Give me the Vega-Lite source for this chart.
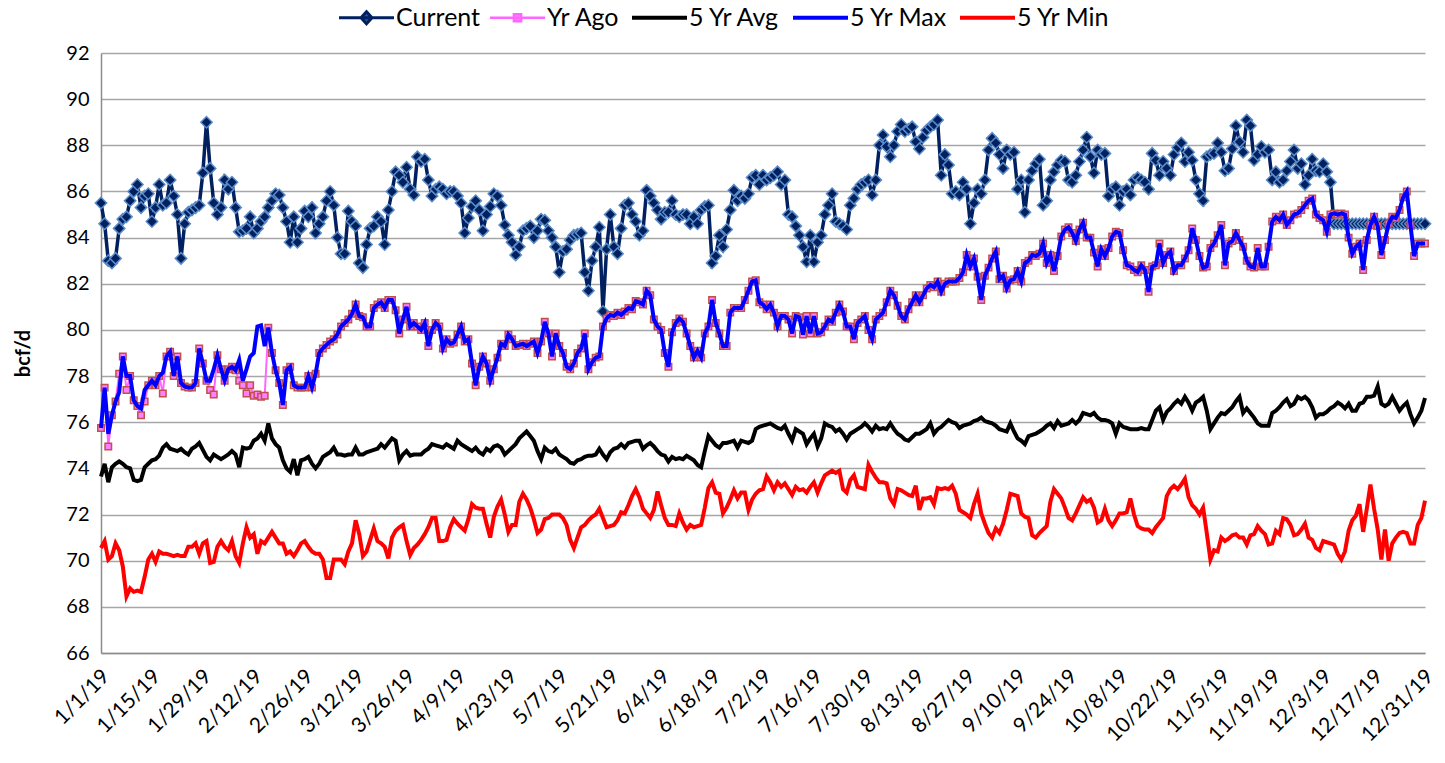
{
"$schema":"https://vega.github.io/schema/vega-lite/v6.json",
"width":1324,"height":600,
"autosize":{"type":"none"},
"padding":{"left":101,"top":53,"right":20,"bottom":110},
"background":"white",
"config":{"font":"Lato","view":{"stroke":null},"axis":{"labelFont":"Lato","titleFont":"Lato"},"legend":{"labelFont":"Lato"}},
"data":{"values":[
{"d":"2019-01-01","C":85.5,"Y":75.75,"A":73.65,"X":75.75,"N":70.55},
{"d":"2019-01-02","C":84.6,"Y":77.5,"A":74.2,"X":77.5,"N":70.85},
{"d":"2019-01-03","C":83.0,"Y":74.95,"A":73.4,"X":75.5,"N":70.05},
{"d":"2019-01-04","C":82.9,"Y":76.3,"A":74.05,"X":76.3,"N":70.2},
{"d":"2019-01-05","C":83.1,"Y":76.9,"A":74.2,"X":76.9,"N":70.75},
{"d":"2019-01-06","C":84.4,"Y":78.1,"A":74.3,"X":77.3,"N":70.45},
{"d":"2019-01-07","C":84.8,"Y":78.85,"A":74.2,"X":78.85,"N":69.75},
{"d":"2019-01-08","C":84.9,"Y":77.4,"A":74.05,"X":78.0,"N":68.45},
{"d":"2019-01-09","C":85.6,"Y":78.0,"A":74.0,"X":78.0,"N":68.8},
{"d":"2019-01-10","C":86.0,"Y":76.95,"A":73.5,"X":76.95,"N":68.65},
{"d":"2019-01-11","C":86.3,"Y":76.7,"A":73.45,"X":76.7,"N":68.7},
{"d":"2019-01-12","C":85.3,"Y":76.3,"A":73.5,"X":76.6,"N":68.65},
{"d":"2019-01-13","C":85.8,"Y":76.9,"A":74.05,"X":77.4,"N":69.3},
{"d":"2019-01-14","C":85.9,"Y":77.6,"A":74.2,"X":77.6,"N":70.05},
{"d":"2019-01-15","C":84.7,"Y":77.8,"A":74.35,"X":77.8,"N":70.3},
{"d":"2019-01-16","C":85.3,"Y":77.6,"A":74.4,"X":77.6,"N":69.95},
{"d":"2019-01-17","C":86.3,"Y":78.0,"A":74.55,"X":78.0,"N":70.4},
{"d":"2019-01-18","C":85.4,"Y":77.25,"A":74.9,"X":78.15,"N":70.3},
{"d":"2019-01-19","C":85.5,"Y":78.85,"A":75.05,"X":78.85,"N":70.3},
{"d":"2019-01-20","C":86.5,"Y":79.05,"A":74.85,"X":79.05,"N":70.25},
{"d":"2019-01-21","C":85.8,"Y":78.0,"A":74.8,"X":78.0,"N":70.2},
{"d":"2019-01-22","C":85.0,"Y":78.85,"A":74.75,"X":78.85,"N":70.25},
{"d":"2019-01-23","C":83.1,"Y":77.7,"A":74.85,"X":77.7,"N":70.2},
{"d":"2019-01-24","C":84.6,"Y":77.55,"A":74.7,"X":77.55,"N":70.2},
{"d":"2019-01-25","C":85.1,"Y":77.5,"A":74.6,"X":77.5,"N":70.6},
{"d":"2019-01-26","C":85.2,"Y":77.5,"A":74.85,"X":77.5,"N":70.6},
{"d":"2019-01-27","C":85.3,"Y":77.7,"A":74.95,"X":77.7,"N":70.75},
{"d":"2019-01-28","C":85.4,"Y":79.2,"A":75.1,"X":79.2,"N":70.3},
{"d":"2019-01-29","C":86.8,"Y":78.55,"A":74.8,"X":78.55,"N":70.75},
{"d":"2019-01-30","C":89.0,"Y":77.8,"A":74.5,"X":77.8,"N":70.85},
{"d":"2019-01-31","C":87.0,"Y":77.4,"A":74.35,"X":77.8,"N":69.9},
{"d":"2019-02-01","C":85.5,"Y":77.2,"A":74.6,"X":78.3,"N":69.95},
{"d":"2019-02-02","C":85.0,"Y":78.9,"A":74.5,"X":78.9,"N":70.6},
{"d":"2019-02-03","C":85.3,"Y":78.3,"A":74.4,"X":78.3,"N":70.85},
{"d":"2019-02-04","C":86.5,"Y":77.8,"A":74.5,"X":77.8,"N":70.6},
{"d":"2019-02-05","C":86.1,"Y":78.3,"A":74.6,"X":78.3,"N":70.45},
{"d":"2019-02-06","C":86.4,"Y":78.4,"A":74.75,"X":78.4,"N":70.85},
{"d":"2019-02-07","C":85.3,"Y":78.25,"A":74.6,"X":78.25,"N":70.2},
{"d":"2019-02-08","C":84.25,"Y":77.8,"A":74.05,"X":78.7,"N":69.9},
{"d":"2019-02-09","C":84.3,"Y":77.6,"A":74.9,"X":77.8,"N":70.75},
{"d":"2019-02-10","C":84.4,"Y":77.25,"A":74.85,"X":78.3,"N":71.45},
{"d":"2019-02-11","C":84.9,"Y":77.6,"A":74.9,"X":78.85,"N":71.0},
{"d":"2019-02-12","C":84.2,"Y":77.15,"A":75.2,"X":79.0,"N":71.15},
{"d":"2019-02-13","C":84.4,"Y":77.2,"A":75.3,"X":80.15,"N":70.3},
{"d":"2019-02-14","C":84.7,"Y":77.1,"A":75.5,"X":80.2,"N":70.85},
{"d":"2019-02-15","C":84.9,"Y":77.15,"A":75.2,"X":79.3,"N":70.75},
{"d":"2019-02-16","C":85.3,"Y":80.1,"A":75.95,"X":80.1,"N":71.0},
{"d":"2019-02-17","C":85.6,"Y":79.0,"A":75.3,"X":79.0,"N":71.25},
{"d":"2019-02-18","C":85.9,"Y":78.25,"A":75.05,"X":78.25,"N":71.0},
{"d":"2019-02-19","C":85.85,"Y":77.7,"A":74.9,"X":77.7,"N":70.75},
{"d":"2019-02-20","C":85.3,"Y":76.75,"A":74.35,"X":76.75,"N":70.75},
{"d":"2019-02-21","C":84.7,"Y":78.25,"A":74.0,"X":78.25,"N":70.3},
{"d":"2019-02-22","C":83.8,"Y":78.4,"A":73.85,"X":78.4,"N":70.4},
{"d":"2019-02-23","C":84.9,"Y":77.6,"A":74.4,"X":77.6,"N":70.2},
{"d":"2019-02-24","C":83.8,"Y":77.5,"A":73.7,"X":77.5,"N":70.45},
{"d":"2019-02-25","C":84.4,"Y":77.5,"A":74.35,"X":77.5,"N":70.75},
{"d":"2019-02-26","C":85.15,"Y":77.5,"A":74.4,"X":77.5,"N":70.85},
{"d":"2019-02-27","C":84.9,"Y":78.0,"A":74.5,"X":78.0,"N":70.6},
{"d":"2019-02-28","C":85.3,"Y":77.5,"A":74.2,"X":77.5,"N":70.4},
{"d":"2019-03-01","C":84.2,"Y":78.1,"A":74.0,"X":78.1,"N":70.3},
{"d":"2019-03-02","C":84.6,"Y":79.0,"A":74.2,"X":79.0,"N":70.3},
{"d":"2019-03-03","C":84.9,"Y":79.2,"A":74.5,"X":79.2,"N":70.05},
{"d":"2019-03-04","C":85.6,"Y":79.35,"A":74.6,"X":79.35,"N":69.25},
{"d":"2019-03-05","C":86.0,"Y":79.5,"A":74.7,"X":79.5,"N":69.25},
{"d":"2019-03-06","C":85.4,"Y":79.6,"A":74.9,"X":79.6,"N":70.05},
{"d":"2019-03-07","C":84.0,"Y":79.8,"A":74.6,"X":79.8,"N":70.05},
{"d":"2019-03-08","C":83.3,"Y":80.15,"A":74.6,"X":80.15,"N":70.05},
{"d":"2019-03-09","C":83.3,"Y":80.3,"A":74.55,"X":80.3,"N":69.85},
{"d":"2019-03-10","C":85.15,"Y":80.45,"A":74.6,"X":80.45,"N":70.4},
{"d":"2019-03-11","C":84.7,"Y":80.7,"A":74.6,"X":80.7,"N":70.75},
{"d":"2019-03-12","C":84.5,"Y":81.1,"A":74.9,"X":81.1,"N":71.75},
{"d":"2019-03-13","C":82.9,"Y":80.6,"A":74.6,"X":80.6,"N":71.15},
{"d":"2019-03-14","C":82.7,"Y":80.55,"A":74.6,"X":80.55,"N":70.2},
{"d":"2019-03-15","C":83.7,"Y":80.15,"A":74.7,"X":80.15,"N":70.4},
{"d":"2019-03-16","C":84.4,"Y":80.15,"A":74.75,"X":80.15,"N":70.9},
{"d":"2019-03-17","C":84.5,"Y":80.95,"A":74.8,"X":80.95,"N":71.4},
{"d":"2019-03-18","C":84.9,"Y":81.1,"A":74.85,"X":81.1,"N":70.85},
{"d":"2019-03-19","C":84.7,"Y":81.2,"A":75.05,"X":81.2,"N":70.75},
{"d":"2019-03-20","C":83.7,"Y":80.95,"A":74.9,"X":80.95,"N":70.6},
{"d":"2019-03-21","C":85.2,"Y":81.3,"A":75.1,"X":81.3,"N":70.1},
{"d":"2019-03-22","C":86.0,"Y":81.3,"A":75.3,"X":81.3,"N":71.0},
{"d":"2019-03-23","C":86.85,"Y":80.85,"A":75.2,"X":80.85,"N":71.3},
{"d":"2019-03-24","C":86.7,"Y":79.85,"A":74.35,"X":79.85,"N":71.45},
{"d":"2019-03-25","C":86.4,"Y":80.45,"A":74.6,"X":80.45,"N":71.55},
{"d":"2019-03-26","C":87.05,"Y":81.0,"A":74.75,"X":81.0,"N":70.85},
{"d":"2019-03-27","C":86.1,"Y":80.15,"A":74.55,"X":80.15,"N":70.25},
{"d":"2019-03-28","C":85.85,"Y":80.3,"A":74.6,"X":80.3,"N":70.55},
{"d":"2019-03-29","C":87.5,"Y":80.15,"A":74.6,"X":80.15,"N":70.7},
{"d":"2019-03-30","C":87.3,"Y":80.0,"A":74.6,"X":80.0,"N":70.9},
{"d":"2019-03-31","C":87.4,"Y":80.3,"A":74.75,"X":80.3,"N":71.15},
{"d":"2019-04-01","C":86.5,"Y":79.3,"A":74.85,"X":79.3,"N":71.45},
{"d":"2019-04-02","C":85.8,"Y":80.0,"A":75.05,"X":80.0,"N":71.85},
{"d":"2019-04-03","C":86.1,"Y":80.3,"A":75.0,"X":80.3,"N":71.85},
{"d":"2019-04-04","C":86.2,"Y":80.15,"A":74.95,"X":80.15,"N":70.85},
{"d":"2019-04-05","C":86.1,"Y":79.2,"A":74.9,"X":79.2,"N":70.85},
{"d":"2019-04-06","C":85.9,"Y":79.6,"A":75.05,"X":79.6,"N":70.9},
{"d":"2019-04-07","C":86.0,"Y":79.4,"A":74.95,"X":79.4,"N":71.45},
{"d":"2019-04-08","C":86.0,"Y":79.45,"A":74.85,"X":79.45,"N":71.8},
{"d":"2019-04-09","C":85.8,"Y":79.8,"A":75.2,"X":79.8,"N":71.6},
{"d":"2019-04-10","C":85.5,"Y":80.15,"A":75.05,"X":80.15,"N":71.45},
{"d":"2019-04-11","C":84.2,"Y":79.5,"A":74.95,"X":79.5,"N":71.3},
{"d":"2019-04-12","C":84.85,"Y":79.6,"A":74.85,"X":79.6,"N":71.8},
{"d":"2019-04-13","C":85.35,"Y":78.55,"A":74.75,"X":78.55,"N":72.45},
{"d":"2019-04-14","C":85.6,"Y":77.6,"A":74.9,"X":77.6,"N":72.3},
{"d":"2019-04-15","C":85.2,"Y":78.4,"A":74.7,"X":78.4,"N":72.25},
{"d":"2019-04-16","C":84.3,"Y":78.85,"A":74.6,"X":78.85,"N":72.25},
{"d":"2019-04-17","C":85.0,"Y":78.55,"A":74.85,"X":78.55,"N":71.6},
{"d":"2019-04-18","C":85.35,"Y":77.8,"A":74.75,"X":77.8,"N":71.0},
{"d":"2019-04-19","C":85.9,"Y":78.3,"A":74.95,"X":78.3,"N":71.9},
{"d":"2019-04-20","C":85.8,"Y":78.8,"A":75.0,"X":78.8,"N":72.35},
{"d":"2019-04-21","C":85.4,"Y":79.4,"A":74.9,"X":79.4,"N":72.65},
{"d":"2019-04-22","C":84.55,"Y":79.3,"A":74.6,"X":79.3,"N":72.0},
{"d":"2019-04-23","C":84.1,"Y":79.8,"A":74.75,"X":79.8,"N":71.25},
{"d":"2019-04-24","C":83.8,"Y":79.6,"A":74.9,"X":79.6,"N":71.55},
{"d":"2019-04-25","C":83.25,"Y":79.3,"A":75.05,"X":79.3,"N":71.55},
{"d":"2019-04-26","C":83.6,"Y":79.35,"A":75.3,"X":79.35,"N":72.55},
{"d":"2019-04-27","C":84.3,"Y":79.4,"A":75.45,"X":79.4,"N":72.9},
{"d":"2019-04-28","C":84.4,"Y":79.3,"A":75.6,"X":79.3,"N":72.65},
{"d":"2019-04-29","C":84.5,"Y":79.4,"A":75.4,"X":79.4,"N":72.3},
{"d":"2019-04-30","C":84.0,"Y":79.5,"A":75.2,"X":79.5,"N":71.8},
{"d":"2019-05-01","C":84.3,"Y":79.0,"A":74.75,"X":79.0,"N":71.2},
{"d":"2019-05-02","C":84.8,"Y":79.5,"A":74.4,"X":79.5,"N":71.35},
{"d":"2019-05-03","C":84.75,"Y":80.35,"A":74.9,"X":80.35,"N":71.8},
{"d":"2019-05-04","C":84.3,"Y":79.85,"A":74.75,"X":79.85,"N":71.85},
{"d":"2019-05-05","C":84.0,"Y":78.85,"A":74.7,"X":78.85,"N":72.0},
{"d":"2019-05-06","C":83.6,"Y":79.85,"A":74.85,"X":79.85,"N":72.0},
{"d":"2019-05-07","C":82.5,"Y":79.3,"A":74.6,"X":79.3,"N":72.0},
{"d":"2019-05-08","C":83.4,"Y":79.0,"A":74.5,"X":79.0,"N":71.85},
{"d":"2019-05-09","C":83.5,"Y":78.4,"A":74.4,"X":78.4,"N":71.55},
{"d":"2019-05-10","C":83.9,"Y":78.3,"A":74.25,"X":78.3,"N":70.9},
{"d":"2019-05-11","C":84.1,"Y":78.55,"A":74.2,"X":78.55,"N":70.55},
{"d":"2019-05-12","C":84.15,"Y":79.0,"A":74.35,"X":79.0,"N":71.0},
{"d":"2019-05-13","C":84.2,"Y":79.2,"A":74.4,"X":79.2,"N":71.45},
{"d":"2019-05-14","C":82.5,"Y":79.85,"A":74.5,"X":79.85,"N":71.55},
{"d":"2019-05-15","C":81.7,"Y":78.3,"A":74.55,"X":78.3,"N":71.75},
{"d":"2019-05-16","C":83.0,"Y":78.6,"A":74.55,"X":78.6,"N":71.9},
{"d":"2019-05-17","C":83.6,"Y":78.8,"A":74.6,"X":78.8,"N":72.0},
{"d":"2019-05-18","C":84.45,"Y":78.85,"A":74.85,"X":78.85,"N":72.25},
{"d":"2019-05-19","C":80.8,"Y":80.15,"A":74.6,"X":80.15,"N":71.85},
{"d":"2019-05-20","C":83.5,"Y":80.5,"A":74.4,"X":80.5,"N":71.45},
{"d":"2019-05-21","C":85.0,"Y":80.65,"A":74.7,"X":80.65,"N":71.5},
{"d":"2019-05-22","C":83.6,"Y":80.6,"A":74.85,"X":80.6,"N":71.55},
{"d":"2019-05-23","C":83.3,"Y":80.75,"A":74.9,"X":80.75,"N":71.75},
{"d":"2019-05-24","C":84.4,"Y":80.65,"A":75.05,"X":80.65,"N":72.1},
{"d":"2019-05-25","C":85.4,"Y":80.8,"A":74.9,"X":80.8,"N":72.05},
{"d":"2019-05-26","C":85.5,"Y":80.95,"A":75.1,"X":80.95,"N":72.4},
{"d":"2019-05-27","C":85.0,"Y":80.9,"A":75.15,"X":80.9,"N":72.8},
{"d":"2019-05-28","C":84.7,"Y":81.25,"A":75.2,"X":81.25,"N":73.1},
{"d":"2019-05-29","C":84.1,"Y":81.2,"A":75.2,"X":81.2,"N":72.75},
{"d":"2019-05-30","C":84.3,"Y":81.1,"A":74.85,"X":81.1,"N":72.25},
{"d":"2019-05-31","C":86.05,"Y":81.7,"A":75.0,"X":81.7,"N":72.05},
{"d":"2019-06-01","C":85.8,"Y":81.5,"A":75.1,"X":81.5,"N":71.85},
{"d":"2019-06-02","C":85.5,"Y":80.45,"A":74.95,"X":80.45,"N":72.2},
{"d":"2019-06-03","C":85.2,"Y":80.15,"A":74.75,"X":80.15,"N":73.0},
{"d":"2019-06-04","C":84.8,"Y":80.0,"A":74.6,"X":80.0,"N":72.4},
{"d":"2019-06-05","C":85.1,"Y":79.0,"A":74.55,"X":79.0,"N":71.85},
{"d":"2019-06-06","C":85.1,"Y":78.4,"A":74.3,"X":78.4,"N":71.55},
{"d":"2019-06-07","C":85.6,"Y":79.9,"A":74.5,"X":79.9,"N":71.55},
{"d":"2019-06-08","C":85.0,"Y":80.3,"A":74.4,"X":80.3,"N":71.5},
{"d":"2019-06-09","C":84.9,"Y":80.5,"A":74.45,"X":80.5,"N":72.05},
{"d":"2019-06-10","C":85.0,"Y":80.35,"A":74.4,"X":80.35,"N":71.65},
{"d":"2019-06-11","C":85.0,"Y":79.85,"A":74.55,"X":79.85,"N":71.35},
{"d":"2019-06-12","C":84.6,"Y":79.3,"A":74.45,"X":79.3,"N":71.55},
{"d":"2019-06-13","C":84.9,"Y":78.8,"A":74.35,"X":78.8,"N":71.45},
{"d":"2019-06-14","C":84.6,"Y":79.1,"A":74.15,"X":79.1,"N":71.5},
{"d":"2019-06-15","C":85.2,"Y":78.8,"A":74.05,"X":78.8,"N":71.55},
{"d":"2019-06-16","C":85.35,"Y":79.85,"A":74.75,"X":79.85,"N":72.3},
{"d":"2019-06-17","C":85.4,"Y":80.15,"A":75.4,"X":80.15,"N":73.15},
{"d":"2019-06-18","C":82.9,"Y":81.3,"A":75.2,"X":81.3,"N":73.4},
{"d":"2019-06-19","C":83.2,"Y":80.3,"A":75.0,"X":80.3,"N":72.95},
{"d":"2019-06-20","C":84.1,"Y":79.85,"A":74.9,"X":79.85,"N":72.9},
{"d":"2019-06-21","C":83.6,"Y":79.3,"A":75.1,"X":79.3,"N":72.05},
{"d":"2019-06-22","C":84.35,"Y":79.3,"A":75.1,"X":79.3,"N":72.3},
{"d":"2019-06-23","C":85.2,"Y":80.75,"A":75.15,"X":80.75,"N":72.65},
{"d":"2019-06-24","C":86.05,"Y":80.95,"A":75.2,"X":80.95,"N":73.05},
{"d":"2019-06-25","C":85.6,"Y":80.95,"A":74.9,"X":80.95,"N":72.7},
{"d":"2019-06-26","C":85.8,"Y":80.95,"A":75.2,"X":80.95,"N":72.95},
{"d":"2019-06-27","C":85.7,"Y":81.3,"A":75.15,"X":81.3,"N":72.95},
{"d":"2019-06-28","C":85.9,"Y":81.7,"A":75.1,"X":81.7,"N":72.2},
{"d":"2019-06-29","C":86.6,"Y":82.1,"A":75.2,"X":82.1,"N":72.65},
{"d":"2019-06-30","C":86.7,"Y":82.15,"A":75.7,"X":82.15,"N":72.9},
{"d":"2019-07-01","C":86.3,"Y":81.2,"A":75.8,"X":81.2,"N":73.05},
{"d":"2019-07-02","C":86.7,"Y":81.1,"A":75.85,"X":81.1,"N":73.1},
{"d":"2019-07-03","C":86.5,"Y":80.9,"A":75.9,"X":80.9,"N":73.65},
{"d":"2019-07-04","C":86.6,"Y":81.1,"A":75.95,"X":81.1,"N":73.4},
{"d":"2019-07-05","C":86.7,"Y":80.75,"A":75.85,"X":80.75,"N":73.05},
{"d":"2019-07-06","C":86.85,"Y":80.15,"A":75.75,"X":80.15,"N":73.4},
{"d":"2019-07-07","C":86.3,"Y":80.6,"A":75.7,"X":80.6,"N":73.2},
{"d":"2019-07-08","C":86.5,"Y":80.6,"A":75.85,"X":80.6,"N":73.35},
{"d":"2019-07-09","C":85.0,"Y":80.45,"A":75.5,"X":80.45,"N":73.1},
{"d":"2019-07-10","C":84.9,"Y":79.85,"A":75.2,"X":79.85,"N":72.85},
{"d":"2019-07-11","C":84.5,"Y":80.6,"A":75.7,"X":80.6,"N":73.2},
{"d":"2019-07-12","C":84.1,"Y":80.55,"A":75.6,"X":80.55,"N":73.05},
{"d":"2019-07-13","C":83.6,"Y":79.8,"A":75.5,"X":79.8,"N":73.1},
{"d":"2019-07-14","C":82.95,"Y":80.6,"A":75.05,"X":80.6,"N":72.95},
{"d":"2019-07-15","C":84.1,"Y":79.85,"A":75.3,"X":79.85,"N":73.2},
{"d":"2019-07-16","C":82.95,"Y":80.6,"A":75.5,"X":80.6,"N":73.4},
{"d":"2019-07-17","C":83.8,"Y":79.85,"A":74.95,"X":79.85,"N":72.95},
{"d":"2019-07-18","C":84.1,"Y":79.9,"A":75.3,"X":79.9,"N":73.35},
{"d":"2019-07-19","C":85.0,"Y":80.15,"A":75.95,"X":80.15,"N":73.7},
{"d":"2019-07-20","C":85.4,"Y":80.45,"A":75.85,"X":80.45,"N":73.8},
{"d":"2019-07-21","C":85.9,"Y":80.35,"A":75.8,"X":80.35,"N":73.9},
{"d":"2019-07-22","C":84.7,"Y":80.75,"A":75.6,"X":80.75,"N":73.8},
{"d":"2019-07-23","C":84.6,"Y":81.1,"A":75.7,"X":81.1,"N":73.9},
{"d":"2019-07-24","C":84.5,"Y":80.8,"A":75.5,"X":80.8,"N":73.1},
{"d":"2019-07-25","C":84.35,"Y":80.15,"A":75.25,"X":80.15,"N":72.95},
{"d":"2019-07-26","C":85.4,"Y":80.15,"A":75.5,"X":80.15,"N":73.5},
{"d":"2019-07-27","C":85.7,"Y":79.6,"A":75.6,"X":79.6,"N":73.7},
{"d":"2019-07-28","C":86.1,"Y":80.3,"A":75.7,"X":80.3,"N":73.2},
{"d":"2019-07-29","C":86.3,"Y":80.45,"A":75.8,"X":80.45,"N":73.15},
{"d":"2019-07-30","C":86.4,"Y":80.6,"A":75.95,"X":80.6,"N":73.1},
{"d":"2019-07-31","C":86.5,"Y":80.0,"A":75.8,"X":80.0,"N":74.15},
{"d":"2019-08-01","C":85.85,"Y":79.6,"A":75.6,"X":79.6,"N":73.85},
{"d":"2019-08-02","C":86.5,"Y":80.45,"A":75.85,"X":80.45,"N":73.6},
{"d":"2019-08-03","C":88.0,"Y":80.6,"A":75.7,"X":80.6,"N":73.4},
{"d":"2019-08-04","C":88.45,"Y":80.75,"A":75.75,"X":80.75,"N":73.4},
{"d":"2019-08-05","C":87.95,"Y":81.2,"A":75.7,"X":81.2,"N":73.35},
{"d":"2019-08-06","C":87.5,"Y":81.7,"A":75.95,"X":81.7,"N":72.7},
{"d":"2019-08-07","C":88.0,"Y":81.5,"A":75.7,"X":81.5,"N":72.45},
{"d":"2019-08-08","C":88.6,"Y":81.05,"A":75.5,"X":81.05,"N":73.1},
{"d":"2019-08-09","C":88.9,"Y":80.6,"A":75.4,"X":80.6,"N":73.05},
{"d":"2019-08-10","C":88.6,"Y":80.45,"A":75.25,"X":80.45,"N":72.95},
{"d":"2019-08-11","C":88.7,"Y":80.9,"A":75.2,"X":80.9,"N":72.85},
{"d":"2019-08-12","C":88.8,"Y":81.2,"A":75.35,"X":81.2,"N":72.8},
{"d":"2019-08-13","C":88.15,"Y":81.5,"A":75.5,"X":81.5,"N":73.25},
{"d":"2019-08-14","C":87.85,"Y":81.2,"A":75.5,"X":81.2,"N":72.2},
{"d":"2019-08-15","C":88.35,"Y":81.5,"A":75.6,"X":81.5,"N":72.7},
{"d":"2019-08-16","C":88.65,"Y":81.8,"A":75.7,"X":81.8,"N":72.7},
{"d":"2019-08-17","C":88.8,"Y":81.95,"A":75.95,"X":81.95,"N":72.75},
{"d":"2019-08-18","C":88.9,"Y":81.85,"A":75.5,"X":81.85,"N":72.45},
{"d":"2019-08-19","C":89.1,"Y":82.1,"A":75.7,"X":82.1,"N":73.15},
{"d":"2019-08-20","C":86.7,"Y":81.65,"A":75.8,"X":81.65,"N":73.1},
{"d":"2019-08-21","C":87.6,"Y":82.0,"A":75.95,"X":82.0,"N":73.15},
{"d":"2019-08-22","C":87.15,"Y":82.1,"A":76.1,"X":82.1,"N":73.1},
{"d":"2019-08-23","C":85.9,"Y":82.1,"A":76.0,"X":82.1,"N":73.25},
{"d":"2019-08-24","C":86.0,"Y":82.1,"A":75.95,"X":82.1,"N":72.9},
{"d":"2019-08-25","C":85.85,"Y":82.25,"A":75.75,"X":82.25,"N":72.2},
{"d":"2019-08-26","C":86.4,"Y":82.5,"A":75.85,"X":82.5,"N":72.1},
{"d":"2019-08-27","C":86.1,"Y":83.25,"A":75.9,"X":83.25,"N":72.0},
{"d":"2019-08-28","C":84.6,"Y":82.75,"A":75.95,"X":82.75,"N":71.85},
{"d":"2019-08-29","C":85.5,"Y":83.1,"A":76.05,"X":83.1,"N":72.45},
{"d":"2019-08-30","C":86.1,"Y":82.3,"A":76.1,"X":82.3,"N":72.9},
{"d":"2019-08-31","C":85.9,"Y":81.3,"A":76.2,"X":81.3,"N":72.05},
{"d":"2019-09-01","C":86.5,"Y":82.35,"A":76.05,"X":82.35,"N":71.6},
{"d":"2019-09-02","C":87.8,"Y":82.7,"A":76.0,"X":82.7,"N":71.2},
{"d":"2019-09-03","C":88.3,"Y":83.1,"A":75.95,"X":83.1,"N":71.0},
{"d":"2019-09-04","C":88.1,"Y":83.4,"A":75.85,"X":83.4,"N":71.4},
{"d":"2019-09-05","C":87.6,"Y":82.2,"A":75.7,"X":82.2,"N":71.2},
{"d":"2019-09-06","C":87.0,"Y":82.35,"A":75.65,"X":82.35,"N":71.6},
{"d":"2019-09-07","C":87.8,"Y":81.8,"A":75.6,"X":81.8,"N":72.2},
{"d":"2019-09-08","C":87.6,"Y":82.15,"A":75.95,"X":82.15,"N":72.9},
{"d":"2019-09-09","C":87.7,"Y":82.2,"A":75.6,"X":82.2,"N":72.85},
{"d":"2019-09-10","C":86.1,"Y":82.55,"A":75.3,"X":82.55,"N":72.8},
{"d":"2019-09-11","C":86.5,"Y":82.1,"A":75.2,"X":82.1,"N":72.05},
{"d":"2019-09-12","C":85.1,"Y":82.9,"A":75.05,"X":82.9,"N":71.9},
{"d":"2019-09-13","C":86.5,"Y":83.0,"A":75.4,"X":83.0,"N":71.85},
{"d":"2019-09-14","C":86.9,"Y":83.25,"A":75.45,"X":83.25,"N":71.1},
{"d":"2019-09-15","C":87.2,"Y":83.2,"A":75.5,"X":83.2,"N":71.0},
{"d":"2019-09-16","C":87.4,"Y":83.3,"A":75.6,"X":83.3,"N":71.2},
{"d":"2019-09-17","C":85.4,"Y":83.75,"A":75.7,"X":83.75,"N":71.35},
{"d":"2019-09-18","C":85.6,"Y":82.9,"A":75.85,"X":82.9,"N":71.5},
{"d":"2019-09-19","C":86.5,"Y":83.25,"A":75.95,"X":83.25,"N":72.55},
{"d":"2019-09-20","C":86.85,"Y":82.55,"A":75.75,"X":82.55,"N":73.1},
{"d":"2019-09-21","C":87.15,"Y":83.2,"A":76.05,"X":83.2,"N":72.9},
{"d":"2019-09-22","C":87.35,"Y":84.05,"A":75.85,"X":84.05,"N":72.7},
{"d":"2019-09-23","C":87.3,"Y":84.35,"A":75.9,"X":84.35,"N":72.3},
{"d":"2019-09-24","C":86.5,"Y":84.45,"A":75.95,"X":84.45,"N":71.85},
{"d":"2019-09-25","C":86.4,"Y":84.2,"A":76.1,"X":84.2,"N":71.75},
{"d":"2019-09-26","C":86.7,"Y":83.85,"A":75.95,"X":83.85,"N":72.05},
{"d":"2019-09-27","C":87.3,"Y":84.35,"A":76.1,"X":84.35,"N":72.4},
{"d":"2019-09-28","C":87.8,"Y":84.65,"A":76.4,"X":84.65,"N":72.75},
{"d":"2019-09-29","C":88.35,"Y":84.0,"A":76.35,"X":84.0,"N":72.55},
{"d":"2019-09-30","C":87.5,"Y":84.0,"A":76.3,"X":84.0,"N":72.65},
{"d":"2019-10-01","C":86.8,"Y":83.35,"A":76.4,"X":83.35,"N":72.3},
{"d":"2019-10-02","C":87.8,"Y":82.75,"A":76.2,"X":82.75,"N":71.65},
{"d":"2019-10-03","C":87.6,"Y":83.5,"A":76.1,"X":83.5,"N":71.75},
{"d":"2019-10-04","C":87.65,"Y":83.2,"A":76.1,"X":83.2,"N":72.25},
{"d":"2019-10-05","C":85.8,"Y":83.55,"A":76.05,"X":83.55,"N":71.75},
{"d":"2019-10-06","C":86.1,"Y":84.05,"A":75.95,"X":84.05,"N":71.5},
{"d":"2019-10-07","C":86.2,"Y":84.25,"A":75.5,"X":84.25,"N":71.75},
{"d":"2019-10-08","C":85.4,"Y":84.2,"A":75.95,"X":84.2,"N":72.05},
{"d":"2019-10-09","C":86.0,"Y":83.45,"A":75.8,"X":83.45,"N":72.05},
{"d":"2019-10-10","C":86.1,"Y":82.8,"A":75.75,"X":82.8,"N":72.1},
{"d":"2019-10-11","C":85.85,"Y":82.75,"A":75.7,"X":82.75,"N":72.7},
{"d":"2019-10-12","C":86.5,"Y":82.6,"A":75.7,"X":82.6,"N":72.0},
{"d":"2019-10-13","C":86.6,"Y":82.5,"A":75.7,"X":82.5,"N":71.5},
{"d":"2019-10-14","C":86.5,"Y":82.8,"A":75.75,"X":82.8,"N":71.4},
{"d":"2019-10-15","C":86.4,"Y":82.6,"A":75.7,"X":82.6,"N":71.35},
{"d":"2019-10-16","C":86.1,"Y":81.65,"A":75.7,"X":81.65,"N":71.35},
{"d":"2019-10-17","C":87.65,"Y":82.75,"A":76.1,"X":82.75,"N":71.2},
{"d":"2019-10-18","C":87.35,"Y":82.8,"A":76.5,"X":82.8,"N":71.45},
{"d":"2019-10-19","C":86.7,"Y":83.75,"A":76.65,"X":83.75,"N":71.65},
{"d":"2019-10-20","C":87.3,"Y":82.9,"A":76.1,"X":82.9,"N":71.85},
{"d":"2019-10-21","C":87.0,"Y":83.25,"A":76.45,"X":83.25,"N":72.8},
{"d":"2019-10-22","C":86.7,"Y":83.4,"A":76.6,"X":83.4,"N":73.1},
{"d":"2019-10-23","C":87.6,"Y":82.55,"A":76.8,"X":82.55,"N":73.25},
{"d":"2019-10-24","C":87.9,"Y":82.8,"A":76.95,"X":82.8,"N":73.1},
{"d":"2019-10-25","C":88.1,"Y":82.8,"A":76.8,"X":82.8,"N":73.3},
{"d":"2019-10-26","C":87.3,"Y":83.1,"A":77.1,"X":83.1,"N":73.55},
{"d":"2019-10-27","C":87.7,"Y":83.45,"A":76.85,"X":83.45,"N":72.75},
{"d":"2019-10-28","C":87.35,"Y":84.4,"A":76.5,"X":84.4,"N":72.4},
{"d":"2019-10-29","C":86.5,"Y":83.9,"A":76.85,"X":83.9,"N":72.25},
{"d":"2019-10-30","C":85.9,"Y":83.2,"A":76.95,"X":83.2,"N":72.0},
{"d":"2019-10-31","C":85.6,"Y":82.7,"A":77.1,"X":82.7,"N":72.3},
{"d":"2019-11-01","C":87.5,"Y":82.75,"A":76.5,"X":82.75,"N":71.2},
{"d":"2019-11-02","C":87.6,"Y":83.55,"A":75.7,"X":83.55,"N":70.05},
{"d":"2019-11-03","C":87.65,"Y":83.75,"A":75.95,"X":83.75,"N":70.45},
{"d":"2019-11-04","C":88.1,"Y":84.1,"A":76.2,"X":84.1,"N":70.4},
{"d":"2019-11-05","C":87.7,"Y":84.55,"A":76.4,"X":84.55,"N":71.0},
{"d":"2019-11-06","C":86.9,"Y":82.8,"A":76.35,"X":82.8,"N":70.85},
{"d":"2019-11-07","C":87.0,"Y":83.75,"A":76.5,"X":83.75,"N":70.95},
{"d":"2019-11-08","C":87.85,"Y":83.85,"A":76.65,"X":83.85,"N":71.1},
{"d":"2019-11-09","C":88.85,"Y":84.2,"A":76.9,"X":84.2,"N":71.15},
{"d":"2019-11-10","C":88.15,"Y":83.9,"A":77.1,"X":83.9,"N":71.0},
{"d":"2019-11-11","C":87.7,"Y":83.6,"A":76.4,"X":83.6,"N":71.0},
{"d":"2019-11-12","C":89.1,"Y":83.0,"A":76.6,"X":83.0,"N":70.7},
{"d":"2019-11-13","C":88.85,"Y":82.75,"A":76.4,"X":82.75,"N":71.1},
{"d":"2019-11-14","C":87.35,"Y":82.7,"A":76.2,"X":82.7,"N":71.15},
{"d":"2019-11-15","C":87.6,"Y":83.55,"A":75.95,"X":83.55,"N":71.5},
{"d":"2019-11-16","C":87.95,"Y":82.75,"A":75.85,"X":82.75,"N":71.3},
{"d":"2019-11-17","C":87.7,"Y":82.75,"A":75.85,"X":82.75,"N":71.15},
{"d":"2019-11-18","C":87.8,"Y":83.6,"A":75.85,"X":83.6,"N":70.7},
{"d":"2019-11-19","C":86.5,"Y":84.7,"A":76.4,"X":84.7,"N":70.75},
{"d":"2019-11-20","C":86.85,"Y":84.9,"A":76.5,"X":84.9,"N":71.3},
{"d":"2019-11-21","C":86.4,"Y":84.75,"A":76.65,"X":84.75,"N":71.15},
{"d":"2019-11-22","C":86.5,"Y":85.0,"A":76.85,"X":85.0,"N":71.85},
{"d":"2019-11-23","C":86.9,"Y":84.55,"A":77.0,"X":84.55,"N":71.8},
{"d":"2019-11-24","C":87.3,"Y":84.75,"A":76.7,"X":84.75,"N":71.55},
{"d":"2019-11-25","C":87.8,"Y":85.0,"A":76.8,"X":85.0,"N":71.1},
{"d":"2019-11-26","C":87.0,"Y":85.05,"A":77.1,"X":85.05,"N":71.15},
{"d":"2019-11-27","C":87.2,"Y":85.2,"A":77.0,"X":85.2,"N":71.35},
{"d":"2019-11-28","C":86.3,"Y":85.4,"A":77.1,"X":85.4,"N":71.6},
{"d":"2019-11-29","C":86.7,"Y":85.6,"A":76.95,"X":85.6,"N":71.0},
{"d":"2019-11-30","C":87.4,"Y":85.7,"A":76.65,"X":85.7,"N":70.9},
{"d":"2019-12-01","C":86.9,"Y":85.0,"A":76.2,"X":85.0,"N":70.55},
{"d":"2019-12-02","C":86.85,"Y":84.85,"A":76.35,"X":84.85,"N":70.45},
{"d":"2019-12-03","C":87.2,"Y":84.75,"A":76.35,"X":84.75,"N":70.85},
{"d":"2019-12-04","C":86.85,"Y":84.25,"A":76.45,"X":84.25,"N":70.8},
{"d":"2019-12-05","C":86.4,"Y":85.0,"A":76.6,"X":85.0,"N":70.75},
{"d":"2019-12-06","C":84.6,"Y":85.05,"A":76.7,"X":85.05,"N":70.7},
{"d":"2019-12-07","C":84.6,"Y":85.0,"A":76.85,"X":85.0,"N":70.3},
{"d":"2019-12-08","C":84.6,"Y":85.05,"A":76.75,"X":85.05,"N":70.05},
{"d":"2019-12-09","C":84.6,"Y":85.0,"A":76.6,"X":85.0,"N":70.4},
{"d":"2019-12-10","C":84.6,"Y":84.0,"A":76.8,"X":84.0,"N":71.3},
{"d":"2019-12-11","C":84.6,"Y":83.3,"A":76.5,"X":83.3,"N":71.75},
{"d":"2019-12-12","C":84.6,"Y":83.6,"A":76.5,"X":83.6,"N":71.95},
{"d":"2019-12-13","C":84.6,"Y":83.75,"A":76.8,"X":83.75,"N":72.45},
{"d":"2019-12-14","C":84.6,"Y":82.6,"A":76.85,"X":82.6,"N":71.25},
{"d":"2019-12-15","C":84.6,"Y":83.9,"A":77.1,"X":83.9,"N":72.25},
{"d":"2019-12-16","C":84.6,"Y":84.55,"A":77.1,"X":84.55,"N":73.3},
{"d":"2019-12-17","C":84.6,"Y":84.9,"A":77.15,"X":84.9,"N":72.25},
{"d":"2019-12-18","C":84.6,"Y":84.5,"A":77.55,"X":84.5,"N":71.35},
{"d":"2019-12-19","C":84.6,"Y":83.25,"A":76.8,"X":83.25,"N":70.05},
{"d":"2019-12-20","C":84.6,"Y":83.9,"A":76.7,"X":83.9,"N":71.35},
{"d":"2019-12-21","C":84.6,"Y":84.6,"A":76.8,"X":84.6,"N":70.0},
{"d":"2019-12-22","C":84.6,"Y":84.9,"A":77.1,"X":84.9,"N":70.75},
{"d":"2019-12-23","C":84.6,"Y":84.85,"A":76.8,"X":84.85,"N":71.0},
{"d":"2019-12-24","C":84.6,"Y":85.2,"A":76.5,"X":85.2,"N":71.2},
{"d":"2019-12-25","C":84.6,"Y":85.75,"A":76.7,"X":85.75,"N":71.25},
{"d":"2019-12-26","C":84.6,"Y":86.0,"A":76.85,"X":86.0,"N":71.2},
{"d":"2019-12-27","C":84.6,"Y":84.55,"A":76.35,"X":84.55,"N":70.75},
{"d":"2019-12-28","C":84.6,"Y":83.2,"A":75.95,"X":83.2,"N":70.75},
{"d":"2019-12-29","C":84.6,"Y":83.75,"A":76.2,"X":83.75,"N":71.55},
{"d":"2019-12-30","C":84.6,"Y":83.75,"A":76.5,"X":83.75,"N":71.85},
{"d":"2019-12-31","C":84.6,"Y":83.75,"A":77.05,"X":83.75,"N":72.6}
]},
"encoding":{
"x":{"field":"d","type":"temporal",
 "scale":{"type":"utc","domain":[{"year":2019,"month":1,"date":1,"utc":true},{"year":2019,"month":12,"date":31,"utc":true}]},
 "axis":{"title":null,"grid":false,"ticks":false,"domainColor":"#8c8c8c","domainWidth":1.5,
  "labelAngle":-45,"labelAlign":"right","labelBaseline":"middle","labelFontSize":21,"labelColor":"black","labelPadding":20,"labelOffset":5,
  "labelOverlap":false,"labelFlush":false,"labelBound":false,
  "labelExpr":"utcFormat(datum.value,'%-m/%-d/%y')",
  "values":[
   {"year":2019,"month":1,"date":1,"utc":true},{"year":2019,"month":1,"date":15,"utc":true},{"year":2019,"month":1,"date":29,"utc":true},
   {"year":2019,"month":2,"date":12,"utc":true},{"year":2019,"month":2,"date":26,"utc":true},{"year":2019,"month":3,"date":12,"utc":true},
   {"year":2019,"month":3,"date":26,"utc":true},{"year":2019,"month":4,"date":9,"utc":true},{"year":2019,"month":4,"date":23,"utc":true},
   {"year":2019,"month":5,"date":7,"utc":true},{"year":2019,"month":5,"date":21,"utc":true},{"year":2019,"month":6,"date":4,"utc":true},
   {"year":2019,"month":6,"date":18,"utc":true},{"year":2019,"month":7,"date":2,"utc":true},{"year":2019,"month":7,"date":16,"utc":true},
   {"year":2019,"month":7,"date":30,"utc":true},{"year":2019,"month":8,"date":13,"utc":true},{"year":2019,"month":8,"date":27,"utc":true},
   {"year":2019,"month":9,"date":10,"utc":true},{"year":2019,"month":9,"date":24,"utc":true},{"year":2019,"month":10,"date":8,"utc":true},
   {"year":2019,"month":10,"date":22,"utc":true},{"year":2019,"month":11,"date":5,"utc":true},{"year":2019,"month":11,"date":19,"utc":true},
   {"year":2019,"month":12,"date":3,"utc":true},{"year":2019,"month":12,"date":17,"utc":true},{"year":2019,"month":12,"date":31,"utc":true}]}},
"y":{"field":"v","type":"quantitative",
 "scale":{"domain":[66,92],"nice":false,"zero":false},
 "axis":{"values":[66,68,70,72,74,76,78,80,82,84,86,88,90,92],"grid":true,"gridColor":"#a6a6a6","gridWidth":1.5,"ticks":false,
  "domainColor":"#8c8c8c","domainWidth":1.5,"labelFontSize":20,"labelColor":"black","labelPadding":12,
  "title":"bcf/d","titleFontSize":20,"titleFontWeight":"bold","titleColor":"black","titlePadding":32}}
},
"layer":[
{"transform":[{"fold":["C"],"as":["s","v"]}],
 "mark":{"type":"line","strokeWidth":3.5},
 "encoding":{"color":{"field":"s","type":"nominal",
   "scale":{"domain":["C","Y","A","X","N"],"range":["#002060","#ff66ff","#000000","#0000ff","#ff0000"]},
   "legend":{"orient":"none","legendX":238,"legendY":-48,"direction":"horizontal","title":null,
    "labelFontSize":25,"labelColor":"black","labelOffset":2,"columnPadding":4,"symbolSize":3025,
    "labelExpr":"datum.label=='C'?'Current':datum.label=='Y'?'Yr Ago':datum.label=='A'?'5 Yr Avg':datum.label=='X'?'5 Yr Max':'5 Yr Min'",
    "encode":{
     "symbols":{"update":{
      "x":{"value":27.5},
      "shape":{"signal":"datum.value=='C'?'M-1,0L1,0M-0.2,0L0,-0.22L0.2,0L0,0.22Z':datum.value=='Y'?'M-1,0L1,0M-0.13,-0.13L0.13,-0.13L0.13,0.13L-0.13,0.13Z':'M-1,0L1,0'"},
      "fill":{"signal":"datum.value=='C'?'#2f5597':datum.value=='Y'?'#ff80ff':'transparent'"},
      "stroke":{"signal":"datum.value=='C'?'#002060':datum.value=='Y'?'#ff66ff':datum.value=='A'?'#000000':datum.value=='X'?'#0000ff':'#ff0000'"},
      "strokeWidth":{"signal":"datum.value=='Y'?2.5:datum.value=='C'?3:4"},
      "opacity":{"value":1}}},
     "labels":{"update":{"x":{"value":57}}}}}}}},
{"transform":[{"fold":["C"],"as":["s","v"]}],
 "mark":{"type":"point","shape":"diamond","filled":true,"size":130,"fill":"#002060","stroke":"#5b8cc8","strokeWidth":1.5,"opacity":1}},
{"transform":[{"fold":["Y"],"as":["s","v"]}],
 "mark":{"type":"line","strokeWidth":2},
 "encoding":{"color":{"field":"s","type":"nominal","scale":{"domain":["C","Y","A","X","N"],"range":["#002060","#ff66ff","#000000","#0000ff","#ff0000"]}}}},
{"transform":[{"fold":["Y"],"as":["s","v"]}],
 "mark":{"type":"point","shape":"square","filled":true,"size":42,"fill":"#ff80ff","stroke":"#c0504d","strokeWidth":1.5,"opacity":1}},
{"transform":[{"fold":["A"],"as":["s","v"]}],
 "mark":{"type":"line","strokeWidth":4},
 "encoding":{"color":{"field":"s","type":"nominal","scale":{"domain":["C","Y","A","X","N"],"range":["#002060","#ff66ff","#000000","#0000ff","#ff0000"]}}}},
{"transform":[{"fold":["X"],"as":["s","v"]}],
 "mark":{"type":"line","strokeWidth":4},
 "encoding":{"color":{"field":"s","type":"nominal","scale":{"domain":["C","Y","A","X","N"],"range":["#002060","#ff66ff","#000000","#0000ff","#ff0000"]}}}},
{"transform":[{"fold":["N"],"as":["s","v"]}],
 "mark":{"type":"line","strokeWidth":4},
 "encoding":{"color":{"field":"s","type":"nominal","scale":{"domain":["C","Y","A","X","N"],"range":["#002060","#ff66ff","#000000","#0000ff","#ff0000"]}}}}
]
}
